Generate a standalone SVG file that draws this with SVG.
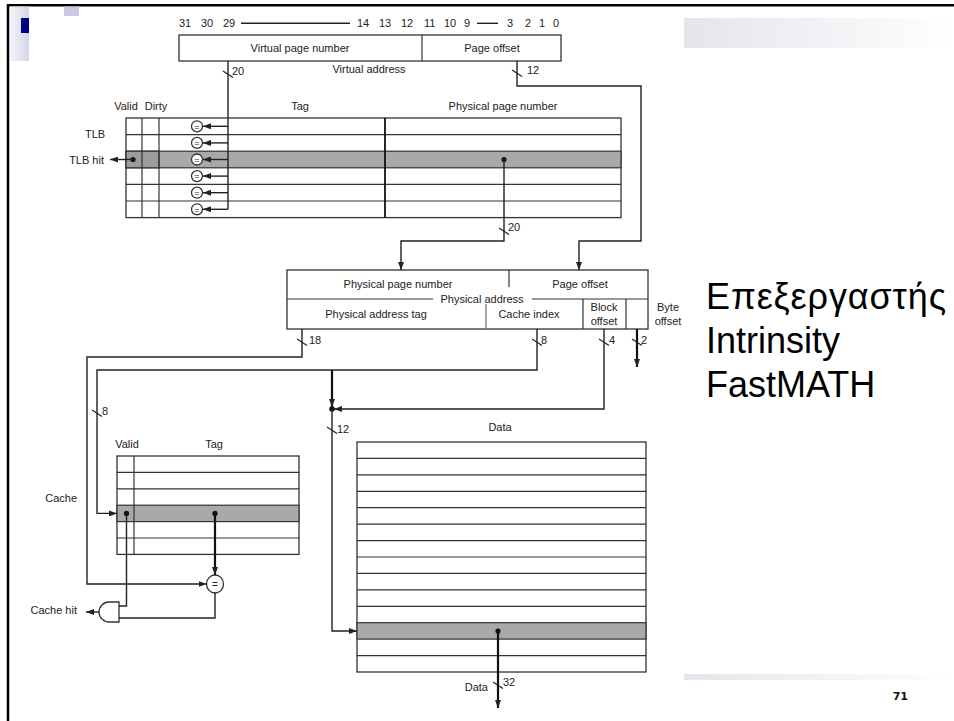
<svg xmlns="http://www.w3.org/2000/svg" width="954" height="721" viewBox="0 0 954 721">
<style>
  text { font-family: "Liberation Sans", Arial, sans-serif; font-size: 11px; fill: #222; }
  .mid { text-anchor: middle; }
  .end { text-anchor: end; }
  .box { fill: #fff; stroke: #333; stroke-width: 1.3; }
  .row { stroke: #333; stroke-width: 1.2; fill: none; }
  .hl { fill: #a9a9a9; stroke: #333; stroke-width: 1.2; }
  .wire { fill: none; stroke: #222; stroke-width: 1.4; }
  .bus { fill: none; stroke: #111; stroke-width: 2.2; }
  .tick { stroke: #222; stroke-width: 1.2; }
  .dot { fill: #111; }
  .title { font-size: 36px; fill: #000; }
  .eq { font-size: 9px; text-anchor: middle; }
</style>
<defs>
  <marker id="ah" viewBox="0 0 8 6" refX="8" refY="3" markerWidth="8" markerHeight="6" markerUnits="userSpaceOnUse" orient="auto">
    <path d="M0,0 L8,3 L0,6 z" fill="#222"/>
  </marker>
  <linearGradient id="barFade" x1="0" y1="0" x2="1" y2="0">
    <stop offset="0" stop-color="#e4e4ec"/>
    <stop offset="1" stop-color="#ffffff"/>
  </linearGradient>
  <linearGradient id="sideFade" x1="0" y1="0" x2="1" y2="0">
    <stop offset="0" stop-color="#f4f4fa"/>
    <stop offset="1" stop-color="#d4d4ea"/>
  </linearGradient>
</defs>

<!-- slide frame and decoration -->
<g id="frame">
  <rect width="954" height="721" fill="#fff"/>
  <line x1="8" y1="5.3" x2="954" y2="5.3" stroke="#000" stroke-width="2.5"/>
  <line x1="8" y1="4" x2="8" y2="721" stroke="#000" stroke-width="2.5"/>
  <rect x="10" y="6.5" width="19" height="54.5" fill="url(#sideFade)"/>
  <rect x="64" y="6.5" width="15" height="9.5" fill="#c9c9e3"/>
  <rect x="21" y="18" width="8" height="15" fill="#000080"/>
  <rect x="684" y="18" width="270" height="30" fill="url(#barFade)"/>
  <rect x="684" y="674" width="270" height="6" fill="url(#barFade)"/>
  <text x="908" y="700" class="end" style="font-family:'DejaVu Sans',Verdana,sans-serif;font-weight:bold;font-size:11px;fill:#111">71</text>
</g>

<!-- title -->
<g id="title">
  <text x="706" y="309" class="title" textLength="240" lengthAdjust="spacing">Επεξεργαστής</text>
  <text x="706" y="353" class="title">Intrinsity</text>
  <text x="706" y="397" class="title">FastMATH</text>
</g>

<!-- virtual address -->
<g id="virtual-address">
  <text x="179" y="27">31</text>
  <text x="201" y="27">30</text>
  <text x="223" y="27">29</text>
  <line x1="241" y1="23.3" x2="350" y2="23.3" class="wire"/>
  <text x="357" y="27">14</text>
  <text x="379" y="27">13</text>
  <text x="401" y="27">12</text>
  <text x="424" y="27">11</text>
  <text x="444" y="27">10</text>
  <text x="464" y="27">9</text>
  <line x1="477" y1="23.3" x2="498" y2="23.3" class="wire"/>
  <text x="507" y="27">3</text>
  <text x="525" y="27">2</text>
  <text x="539" y="27">1</text>
  <text x="553" y="27">0</text>
  <rect x="179" y="35" width="382" height="26" class="box"/>
  <line x1="422" y1="35" x2="422" y2="61" class="row"/>
  <text x="300" y="52" class="mid">Virtual page number</text>
  <text x="492" y="52" class="mid">Page offset</text>
  <text x="369" y="73" class="mid">Virtual address</text>
</g>

<!-- TLB -->
<g id="tlb">
  <text x="126" y="110" class="mid">Valid</text>
  <text x="156" y="110" class="mid">Dirty</text>
  <text x="300" y="110" class="mid">Tag</text>
  <text x="503" y="110" class="mid">Physical page number</text>
  <text x="95" y="138" class="mid">TLB</text>
  <text x="104" y="164" class="end">TLB hit</text>
  <rect x="126" y="118" width="495" height="99.6" class="box"/>
  <rect x="126" y="151.2" width="495" height="16.6" class="hl"/>
  <rect x="126" y="151.2" width="33" height="16.6" fill="#9c9c9c" stroke="#333" stroke-width="1.2"/>
  <line x1="126" y1="134.6" x2="621" y2="134.6" class="row"/>
  <line x1="126" y1="184.4" x2="621" y2="184.4" class="row"/>
  <line x1="126" y1="201" x2="621" y2="201" class="row"/>
  <line x1="142" y1="118" x2="142" y2="217.6" class="row"/>
  <line x1="159" y1="118" x2="159" y2="217.6" class="row"/>
  <line x1="385" y1="118" x2="385" y2="217.6" stroke="#111" stroke-width="1.8"/>
  <g id="tlb-compare">
    <circle cx="197" cy="126.3" r="5.5" class="box"/>
    <circle cx="197" cy="142.9" r="5.5" class="box"/>
    <circle cx="197" cy="159.5" r="5.5" class="box"/>
    <circle cx="197" cy="176.1" r="5.5" class="box"/>
    <circle cx="197" cy="192.7" r="5.5" class="box"/>
    <circle cx="197" cy="209.3" r="5.5" class="box"/>
    <text x="197" y="129.5" class="eq">=</text>
    <text x="197" y="146.1" class="eq">=</text>
    <text x="197" y="162.7" class="eq">=</text>
    <text x="197" y="179.3" class="eq">=</text>
    <text x="197" y="195.9" class="eq">=</text>
    <text x="197" y="212.5" class="eq">=</text>
  </g>
  <circle cx="133" cy="159.5" r="2.6" class="dot"/>
  <circle cx="504" cy="159.5" r="2.6" class="dot"/>
</g>

<!-- physical address -->
<g id="physical-address">
  <rect x="287" y="270" width="361" height="59" fill="#fff" stroke="#333" stroke-width="1.3"/>
  <line x1="509" y1="270" x2="509" y2="287" class="row"/>
  <line x1="287" y1="299" x2="433" y2="299" class="row"/>
  <line x1="532" y1="299" x2="648" y2="299" class="row"/>
  <line x1="486" y1="304" x2="486" y2="329" stroke="#777" stroke-width="1.3"/>
  <line x1="583" y1="299" x2="583" y2="329" class="row"/>
  <line x1="626" y1="299" x2="626" y2="329" class="row"/>
  <text x="398" y="288" class="mid">Physical page number</text>
  <text x="580" y="288" class="mid">Page offset</text>
  <text x="482" y="303" class="mid">Physical address</text>
  <text x="376" y="318" class="mid">Physical address tag</text>
  <text x="529" y="318" class="mid">Cache index</text>
  <text x="604" y="311" class="mid">Block</text>
  <text x="604" y="325" class="mid">offset</text>
  <text x="668" y="311" class="mid">Byte</text>
  <text x="668" y="325" class="mid">offset</text>
</g>

<!-- cache -->
<g id="cache">
  <text x="127" y="448" class="mid">Valid</text>
  <text x="214" y="448" class="mid">Tag</text>
  <text x="77" y="502" class="end">Cache</text>
  <rect x="117" y="456" width="182" height="98.4" class="box"/>
  <rect x="117" y="505.2" width="182" height="16.4" class="hl"/>
  <line x1="117" y1="472.4" x2="299" y2="472.4" class="row"/>
  <line x1="117" y1="488.8" x2="299" y2="488.8" class="row"/>
  <line x1="117" y1="538" x2="299" y2="538" class="row"/>
  <line x1="134" y1="456" x2="134" y2="554.4" class="row"/>
  <circle cx="126.5" cy="513.4" r="2.6" class="dot"/>
  <circle cx="215" cy="513.4" r="2.6" class="dot"/>
</g>

<g id="cache-compare">
  <ellipse cx="215" cy="584" rx="8.5" ry="9" class="box"/>
  <text x="215" y="588" class="mid" style="font-size:10px">=</text>
</g>

<g id="and-gate">
  <path d="M119,602 L109,602 A10,10 0 0 0 109,622 L119,622 Z" class="box"/>
  <text x="77" y="614" class="end">Cache hit</text>
</g>

<!-- data array -->
<g id="data">
  <text x="500" y="431" class="mid">Data</text>
  <rect x="357" y="442" width="289" height="230" class="box"/>
  <rect x="357" y="622.7" width="289" height="16.4" class="hl"/>
  <path class="row" d="M357,458.4 H646 M357,474.9 H646 M357,491.3 H646 M357,507.7 H646 M357,524.1 H646 M357,540.6 H646 M357,557 H646 M357,573.4 H646 M357,589.9 H646 M357,606.3 H646 M357,655.6 H646"/>
  <circle cx="498" cy="631" r="2.6" class="dot"/>
  <text x="488" y="691" class="end">Data</text>
</g>

<!-- connectors -->
<g id="connectors">
  <!-- virtual page number into the TLB comparators -->
  <path d="M228,61 V209.3" class="wire"/>
  <path d="M228,126.3 H203" class="wire" marker-end="url(#ah)"/>
  <path d="M228,142.9 H203" class="wire" marker-end="url(#ah)"/>
  <path d="M228,159.5 H203" class="wire" marker-end="url(#ah)"/>
  <path d="M228,176.1 H203" class="wire" marker-end="url(#ah)"/>
  <path d="M228,192.7 H203" class="wire" marker-end="url(#ah)"/>
  <path d="M228,209.3 H203" class="wire" marker-end="url(#ah)"/>
  <line x1="223" y1="71" x2="233" y2="77.5" class="tick"/>
  <text x="232" y="75">20</text>

  <!-- TLB hit -->
  <path d="M133,159.5 H110" class="wire" marker-end="url(#ah)"/>

  <!-- page offset -->
  <path d="M517,61 V86 H641 V241 H579 V270" class="wire" marker-end="url(#ah)"/>
  <line x1="512" y1="70" x2="522" y2="76.5" class="tick"/>
  <text x="527" y="74">12</text>

  <!-- physical page number -->
  <path d="M504,159.5 V241 H401 V270" class="wire" marker-end="url(#ah)"/>
  <line x1="499" y1="228" x2="509" y2="234.5" class="tick"/>
  <text x="508" y="231">20</text>

  <!-- tag to comparator -->
  <path d="M302,329 V357 H87 V584 H206.5" class="wire" marker-end="url(#ah)"/>
  <line x1="297" y1="339" x2="307" y2="345.5" class="tick"/>
  <text x="309" y="344">18</text>

  <!-- cache index -->
  <path d="M537,329 V370 H97 V513.4 H117" class="wire" marker-end="url(#ah)"/>
  <line x1="532" y1="339" x2="542" y2="345.5" class="tick"/>
  <text x="541" y="344">8</text>
  <line x1="92" y1="410" x2="102" y2="416.5" class="tick"/>
  <text x="102" y="415">8</text>

  <!-- block offset -->
  <path d="M604,329 V409 H334" class="wire" marker-end="url(#ah)"/>
  <line x1="599" y1="339" x2="609" y2="345.5" class="tick"/>
  <text x="609" y="344">4</text>

  <!-- byte offset -->
  <path d="M637,329 V367" class="bus" marker-end="url(#ah)"/>
  <line x1="632" y1="339" x2="642" y2="345.5" class="tick"/>
  <text x="641" y="344">2</text>

  <!-- index + block offset into data array -->
  <path d="M332,370 V407" class="bus" marker-end="url(#ah)"/>
  <circle cx="332" cy="409" r="2.8" class="dot"/>
  <path d="M332,409 V631 H357" class="wire" marker-end="url(#ah)"/>
  <line x1="327" y1="427" x2="337" y2="433.5" class="tick"/>
  <text x="337" y="433">12</text>

  <!-- cache tag and valid -->
  <path d="M215,513.4 V575" class="bus" marker-end="url(#ah)"/>
  <path d="M126.5,513.4 V606 H119" class="wire"/>
  <path d="M215,593 V618 H119" class="wire"/>
  <path d="M99,612 H86" class="wire" marker-end="url(#ah)"/>

  <!-- data out -->
  <path d="M498,631 V708" class="bus" marker-end="url(#ah)"/>
  <line x1="493" y1="682" x2="503" y2="688.5" class="tick"/>
  <text x="503" y="686">32</text>
</g>
</svg>
